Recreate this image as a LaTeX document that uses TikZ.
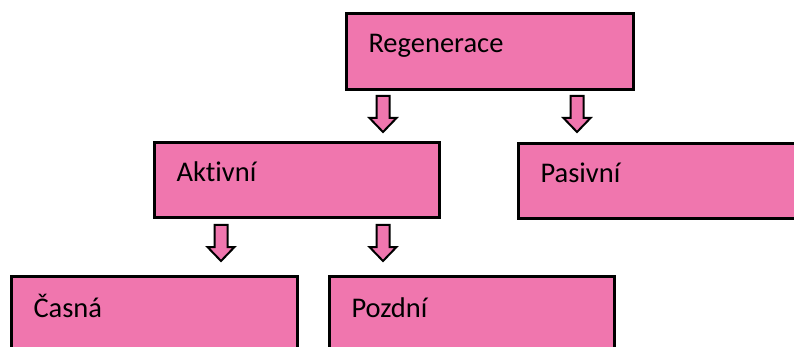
\documentclass[tikz,border=0pt]{standalone}
\usepackage{fontspec}
\setmainfont{Carlito}[Ligatures={NoCommon}]
\usepackage{tikz}

\definecolor{boxpink}{RGB}{240,118,174}

\tikzset{
  box/.style={draw=black, line width=3pt, fill=boxpink, rectangle, anchor=north west,
    inner xsep=22pt, inner ysep=0pt, align=left, text height=9pt, text depth=6pt,
    font=\fontsize{28.5}{30}\selectfont},
  blockarrow/.style={draw=black, line width=2pt, fill=boxpink, line join=miter}
}
\newcommand{\downarrowat}[2]{%
  \draw[blockarrow] (#1,#2) ++(-6.5,0) -- ++(13,0) -- ++(0,22) -- ++(7,0)
    -- ++(-13.5,14) -- ++(-13.5,-14) -- ++(7,0) -- cycle;}

\begin{document}
\begin{tikzpicture}[x=1pt,y=1pt,yscale=-1,xscale=1]
\useasboundingbox (0,0) rectangle (794,347);
\clip (0,0) rectangle (794,347);

%Boxes
\node[box, minimum width=287pt, minimum height=76pt, text width=243pt] (reg) at (345,12) {Regenerace};
\node[box, minimum width=285pt, minimum height=75pt, text width=241pt] (akt) at (153,141) {Aktivní};
\node[box, minimum width=300pt, minimum height=75pt, text width=256pt] (pas) at (517,142) {Pasivní};
\node[box, minimum width=286pt, minimum height=78pt, text width=242pt] (cas) at (10,275) {Časná};
\node[box, minimum width=285pt, minimum height=78pt, text width=241pt] (poz) at (328,275) {Pozdní};

%Block arrows
\downarrowat{383}{96}
\downarrowat{577}{96}
\downarrowat{221}{225}
\downarrowat{383}{225}

\end{tikzpicture}
\end{document}
